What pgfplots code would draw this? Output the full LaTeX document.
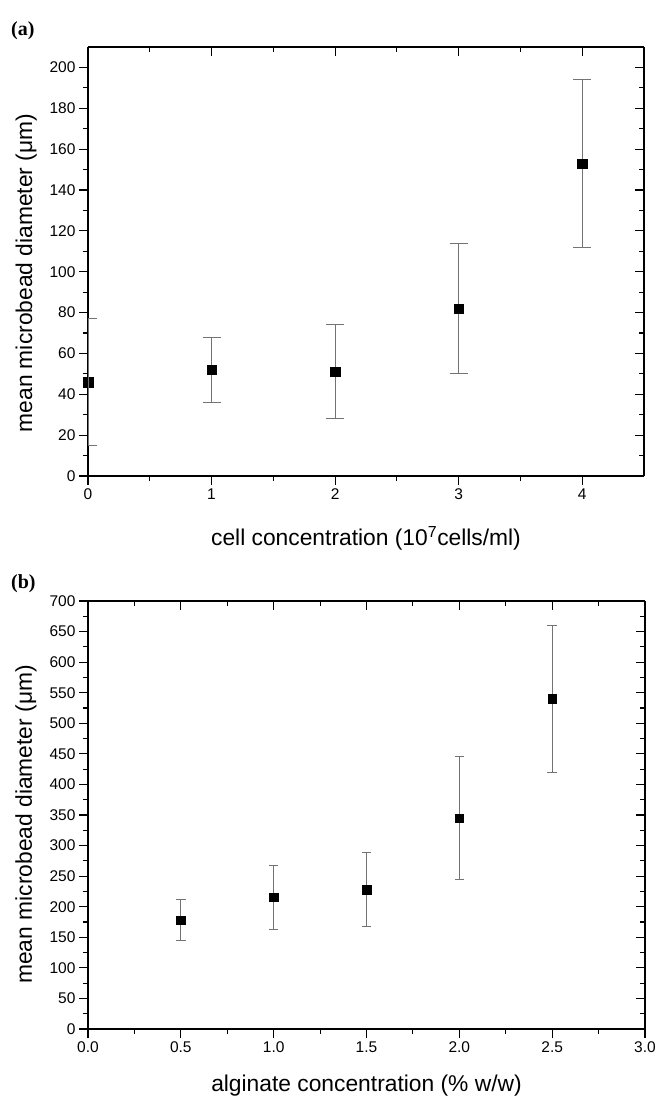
\documentclass[border=0pt]{standalone}
\usepackage{fontspec}
\setmainfont{Liberation Sans}
\newfontfamily\panelfont{Liberation Serif}
\usepackage{pgfplots}
\pgfplotsset{compat=1.18}

\pgfplotsset{
  common/.style={
    scale only axis,
    axis line style={line width=1.3pt, -},
    tick style={line width=1.1pt, black},
    major tick length=9pt,
    minor tick length=5pt,
    tick label style={font=\fontsize{15.5}{18}\selectfont},
    label style={font=\fontsize{22.8}{26}\selectfont},
    /pgf/number format/assume math mode=true,
  },
  lowerleft/.style={common, axis x line*=bottom, axis y line*=left, tick align=outside},
  upperright/.style={common, axis x line*=top, axis y line*=right, tick align=inside,
    xticklabels={}, yticklabels={}},
  errs/.style 2 args={only marks, mark=square*, mark options={black}, mark size=#1,
    error bars/.cd, y dir=both, y explicit,
    error bar style={black!55, line width=1pt},
    error mark options={black!55, mark size=#2, line width=1pt, rotate=90}},
}

\begin{document}
\begin{tikzpicture}
\useasboundingbox (0,0) rectangle (658pt,-1098pt);

\node[anchor=base west, inner sep=0pt, font=\panelfont\bfseries\fontsize{20}{24}\selectfont] at (11pt,-35pt) {(a)};
\node[anchor=base west, inner sep=0pt, font=\panelfont\bfseries\fontsize{20}{24}\selectfont] at (11pt,-588pt) {(b)};

% panel (a)
\begin{axis}[lowerleft, at={(88pt,-47pt)}, anchor=north west,
  width=556pt, height=429pt,
  xmin=0, xmax=4.5, ymin=0, ymax=210,
  xtick={0,1,2,3,4}, minor x tick num=1,
  ytick={0,20,...,200}, minor y tick num=1,
  xlabel={cell concentration (10\textsuperscript{7}cells/ml)},
  ylabel={mean microbead diameter (μm)},
  xlabel style={at={(axis description cs:0.5,-0.161)}, anchor=base},
  ylabel style={at={(axis description cs:-0.1007,0.473)}, anchor=base, rotate=0},
]
\addplot[errs={4.7pt}{9pt}]
coordinates {
  (1,52) +- (0,16)
  (2,51) +- (0,23)
  (3,82) +- (0,32)
  (4,153) +- (0,41)
};
\addplot[only marks, mark=square*, mark options={black}, mark size=4.7pt]
coordinates {(0,46)};
\end{axis}
\begin{axis}[upperright, at={(88pt,-47pt)}, anchor=north west,
  width=556pt, height=429pt,
  xmin=0, xmax=4.5, ymin=0, ymax=210,
  xtick={0,1,2,3,4}, minor x tick num=1,
  ytick={0,20,...,200}, minor y tick num=1,
  clip marker paths=true,
]
% the first point sits on the y axis: its caps are cut at the axis
\addplot[errs={0pt}{9pt}, /tikz/mark=none]
coordinates {(0,46) +- (0,31)};
\end{axis}

% panel (b)
\begin{axis}[lowerleft, at={(88pt,-601pt)}, anchor=north west,
  width=557pt, height=428pt,
  xmin=0, xmax=3, ymin=0, ymax=700,
  xtick={0,0.5,...,3}, minor x tick num=1,
  ytick={0,50,...,700}, minor y tick num=1,
  xticklabel style={/pgf/number format/.cd, fixed, fixed zerofill, precision=1},
  xlabel={alginate concentration (\% w/w)},
  ylabel={mean microbead diameter (μm)},
  xlabel style={at={(axis description cs:0.5,-0.147)}, anchor=base},
  ylabel style={at={(axis description cs:-0.1007,0.478)}, anchor=base, rotate=0},
]
\addplot[errs={4.2pt}{4.7pt}]
coordinates {
  (0.5,178) +- (0,33)
  (1.0,215.5) +- (0,52.5)
  (1.5,228) +- (0,61)
  (2.0,345) +- (0,100)
  (2.5,540) +- (0,120)
};
\end{axis}
\begin{axis}[upperright, at={(88pt,-601pt)}, anchor=north west,
  width=557pt, height=428pt,
  xmin=0, xmax=3, ymin=0, ymax=700,
  xtick={0,0.5,...,3}, minor x tick num=1,
  ytick={0,50,...,700}, minor y tick num=1,
]
\end{axis}
\end{tikzpicture}
\end{document}
